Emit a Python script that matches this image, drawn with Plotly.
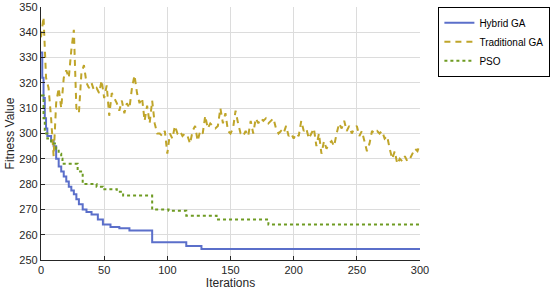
import plotly.graph_objects as go

# Traditional GA, sampled every 2 iterations
trad_iter = list(range(0, 301, 2))
trad_fit = [
    338, 346, 322, 318, 306, 291, 312, 318, 310, 322,
    325, 322, 333, 341, 310, 308, 324, 327, 320, 318,
    320, 317, 318, 316, 321, 314, 319, 307, 316, 314,
    312, 309, 313, 308, 312, 310, 318, 323, 316, 312,
    314, 305, 311, 304, 313, 304, 300, 300, 299, 301,
    292, 300, 298, 303, 300, 301, 299, 300, 299, 296,
    301, 303, 297, 301, 300, 307, 302, 304, 303, 302,
    303, 310, 304, 308, 301, 300, 302, 309, 304, 300,
    299, 301, 299, 305, 300, 306, 304, 306, 305, 306,
    304, 305, 306, 302, 300, 301, 300, 303, 299, 300,
    298, 300, 299, 305, 301, 302, 298, 300, 302, 295,
    300, 292, 297, 294, 296, 297, 295, 300, 304, 302,
    305, 301, 303, 300, 302, 303, 299, 301, 297, 293,
    296, 301, 300, 301, 300, 301, 298, 299, 294, 290,
    293, 288, 290, 289, 291, 289, 290, 292, 294, 293,
    296,
]

# Hybrid GA (step changes)
hyb_iter = [0, 1, 2, 3, 4, 5, 8, 10, 12, 14, 16, 18, 20, 22, 24, 26, 28, 30,
            33, 36, 40, 45, 49, 55, 62, 70, 88, 115, 127, 300]
hyb_fit = [332, 322, 314, 306, 302, 299, 297, 295, 290, 287, 285, 283, 281,
           279, 277.5, 276, 274, 272, 270, 269, 268, 266, 264, 263, 262.5,
           261.7, 257, 255.5, 254.3, 254.3]

# PSO (step changes)
pso_iter = [0, 2, 3, 5, 8, 12, 14, 16, 17, 29, 33, 44, 49, 60, 65, 88, 101,
            115, 139, 180, 300]
pso_fit = [315, 306, 300, 298, 296, 294, 292, 290, 288, 285, 280, 279, 278,
           277, 275.5, 270, 269.5, 267.5, 266, 264, 264]

fig = go.Figure()
fig.add_trace(go.Scatter(x=hyb_iter, y=hyb_fit, mode="lines", name="Hybrid GA",
                         line=dict(color="#5b6fca", width=2, shape="hv")))
fig.add_trace(go.Scatter(x=trad_iter, y=trad_fit, mode="lines", name="Traditional GA",
                         line=dict(color="#bfa52a", width=2, dash="6px,5px")))
fig.add_trace(go.Scatter(x=pso_iter, y=pso_fit, mode="lines", name="PSO",
                         line=dict(color="#6e9b22", width=2, dash="dot", shape="hv")))

fig.update_layout(
    width=550, height=293,
    margin=dict(l=41, r=130, t=7, b=33, autoexpand=False),
    paper_bgcolor="white", plot_bgcolor="white",
    font=dict(family="Liberation Sans, Arial", size=11, color="#262626"),
    legend=dict(x=1.048, y=1, xanchor="left", yanchor="top",
                bordercolor="black", borderwidth=1.2,
                font=dict(size=10, color="black"),
                tracegroupgap=0, itemwidth=30),
)
fig.update_xaxes(
    range=[0, 300], dtick=50, showgrid=True, gridcolor="#dcdcdc",
    showline=True, linecolor="#262626", linewidth=1.2,
    ticks="inside", ticklen=4, tickcolor="#262626",
    zeroline=False, mirror=False, automargin=False,
    tickfont=dict(size=11),
    title=dict(text="Iterations", standoff=2, font=dict(size=12)),
)
fig.update_yaxes(
    range=[250, 350], dtick=10, showgrid=True, gridcolor="#dcdcdc",
    showline=True, linecolor="#262626", linewidth=1.2,
    ticks="inside", ticklen=4, tickcolor="#262626",
    zeroline=False, mirror=False, automargin=False,
    tickfont=dict(size=11),
    title=dict(text="Fitness Value", standoff=2, font=dict(size=12)),
)

# page body has an 8px default margin, drop it so the figure sits at 0,0
fig.write_html("out.html", config={"displayModeBar": False},
               post_script="document.body.style.margin='0';")
